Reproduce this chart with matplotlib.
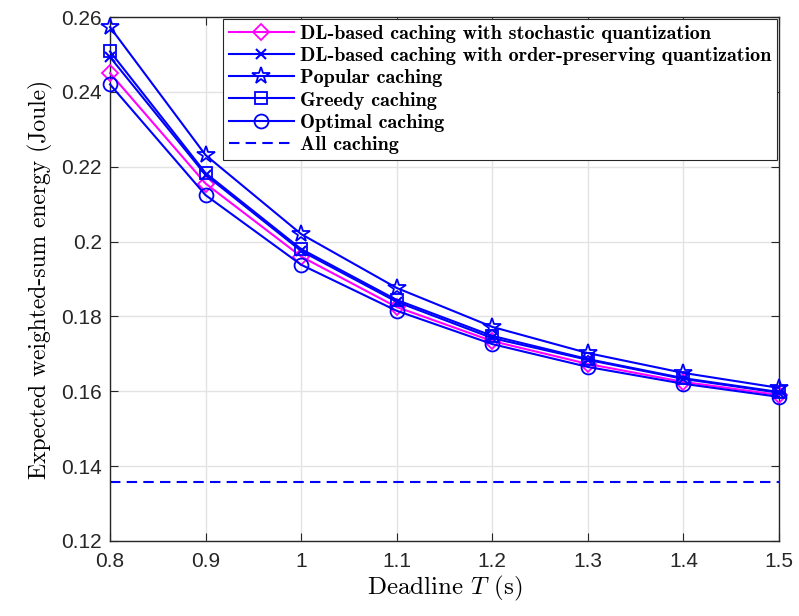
import matplotlib
matplotlib.use('Agg')
import matplotlib.pyplot as plt

plt.rcParams['mathtext.fontset'] = 'cm'

# deadline values (s)
deadline = [0.8, 0.9, 1.0, 1.1, 1.2, 1.3, 1.4, 1.5]

# expected weighted-sum energy (Joule)
dl_stochastic = [0.2450, 0.2155, 0.1960, 0.1825, 0.1734, 0.1673, 0.1625, 0.1590]
dl_order = [0.2493, 0.2178, 0.1975, 0.1839, 0.1742, 0.1684, 0.1633, 0.1596]
popular = [0.2573, 0.2231, 0.2020, 0.1876, 0.1772, 0.1702, 0.1649, 0.1609]
greedy = [0.2508, 0.2183, 0.1980, 0.1844, 0.1748, 0.1686, 0.1635, 0.1598]
optimal = [0.2420, 0.2124, 0.1938, 0.1815, 0.1726, 0.1665, 0.1620, 0.1585]
all_caching = 0.1358

labels = ['DL-based caching with stochastic quantization',
          'DL-based caching with order-preserving quantization',
          'Popular caching',
          'Greedy caching',
          'Optimal caching',
          'All caching']

fig = plt.figure(figsize=(7.99, 6.16), dpi=100)
ax = fig.add_axes([0.1377, 0.1218, 0.8373, 0.8506])

lw = 1.5
ms = 9
common = dict(lw=lw, clip_on=False, zorder=3)
ax.plot(deadline, dl_stochastic, color='#ff00ff', marker='D', ms=8, mfc='none', mew=1.3, label=labels[0], **common)
ax.plot(deadline, dl_order, color='#0000ff', marker='x', ms=7, mew=1.5, label=labels[1], **common)
ax.plot(deadline, popular, color='#0000ff', marker='*', ms=13, mfc='none', mew=1.3, label=labels[2], **common)
ax.plot(deadline, greedy, color='#0000ff', marker='s', ms=ms, mfc='none', mew=1.3, label=labels[3], **common)
ax.plot(deadline, optimal, color='#0000ff', marker='o', ms=ms + 1, mfc='none', mew=1.3, label=labels[4], **common)
ax.axhline(all_caching, color='#0000ff', ls=(0, (5, 3)), lw=lw, label=labels[5])

ax.set_xlim(0.8, 1.5)
ax.set_ylim(0.12, 0.26)
ax.set_xticks([0.8, 0.9, 1.0, 1.1, 1.2, 1.3, 1.4, 1.5])
ax.set_xticklabels(['0.8', '0.9', '1', '1.1', '1.2', '1.3', '1.4', '1.5'])
ax.set_yticks([0.12, 0.14, 0.16, 0.18, 0.2, 0.22, 0.24, 0.26])
ax.set_yticklabels(['0.12', '0.14', '0.16', '0.18', '0.2', '0.22', '0.24', '0.26'])
ax.tick_params(direction='in', labelsize=15, colors='#262626', length=6, top=True, right=True)
ax.tick_params(axis='x', pad=8)
ax.tick_params(axis='y', pad=6)
for t in ax.get_xticklabels() + ax.get_yticklabels():
    t.set_family('Liberation Sans')
ax.grid(True, color='#e3e3e3', lw=1)
ax.set_axisbelow(True)
for s in ax.spines.values():
    s.set_color('#262626')
    s.set_linewidth(1)

ax.set_xlabel('Deadline $T$ (s)', family='cmr10', fontsize=18, labelpad=2)
ax.set_ylabel('Expected weighted-sum energy (Joule)', family='cmr10', fontsize=17, labelpad=6)

leg = ax.legend(loc='upper right', prop={'family': 'cmb10', 'size': 14.5}, fancybox=False,
                edgecolor='#262626', framealpha=1, borderaxespad=0.1, handlelength=3.2,
                handletextpad=0.3, labelspacing=0.2, borderpad=0.3)
leg.get_frame().set_linewidth(0.8)

fig.savefig('out.png', dpi=100)
